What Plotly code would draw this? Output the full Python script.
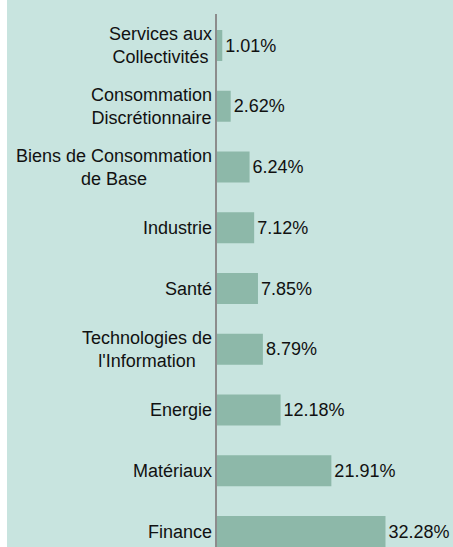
import plotly.graph_objects as go

categories = [
    "Services aux<br>Collectivités",
    "Consommation<br>Discrétionnaire",
    "Biens de Consommation<br>de Base",
    "Industrie",
    "Santé",
    "Technologies de<br>l'Information",
    "Energie",
    "Matériaux",
    "Finance",
]
values = [1.01, 2.62, 6.24, 7.12, 7.85, 8.79, 12.18, 21.91, 32.28]
value_labels = [f"{v:.2f}%" for v in values]

BG = "#c8e4df"
BAR = "#8db8a9"
FONT = "Liberation Sans, Arial, sans-serif"

W, H = 453, 547
ML, MT = 217, 14

fig = go.Figure(
    go.Bar(
        x=values,
        y=categories,
        orientation="h",
        marker=dict(color=BAR, line=dict(width=0)),
        width=0.51,
        text=value_labels,
        textposition="outside",
        textfont=dict(size=18, color="#111111", family=FONT),
        constraintext="none",
        cliponaxis=False,
        hoverinfo="skip",
    )
)

for c in categories:
    fig.add_annotation(
        x=0, y=c, xref="x", yref="y",
        text=c, showarrow=False,
        xanchor="right", yanchor="middle", align="center",
        xshift=-3,
        font=dict(size=18, color="#111111", family=FONT),
    )

# white strip at the left edge
plot_w = W - ML
fig.add_shape(
    type="rect", xref="paper", yref="paper",
    x0=-ML / plot_w, x1=-(ML - 7) / plot_w, y0=-0.01, y1=1 + MT / (H - MT) + 0.01,
    fillcolor="white", line=dict(width=0), layer="below",
)

fig.update_layout(
    width=W, height=H,
    margin=dict(l=ML, r=0, t=MT, b=0, pad=0),
    paper_bgcolor=BG, plot_bgcolor=BG,
    showlegend=False,
    font=dict(family=FONT, size=18, color="#111111"),
    xaxis=dict(visible=False, range=[0, plot_w / 5.22], fixedrange=True),
    yaxis=dict(
        categoryorder="array", categoryarray=categories,
        range=[8.255, -0.5185],
        showticklabels=False, ticks="", showgrid=False, zeroline=False,
        showline=True, linecolor="#8c8c8c", linewidth=1.5,
    ),
)

fig.write_html("out.html")
